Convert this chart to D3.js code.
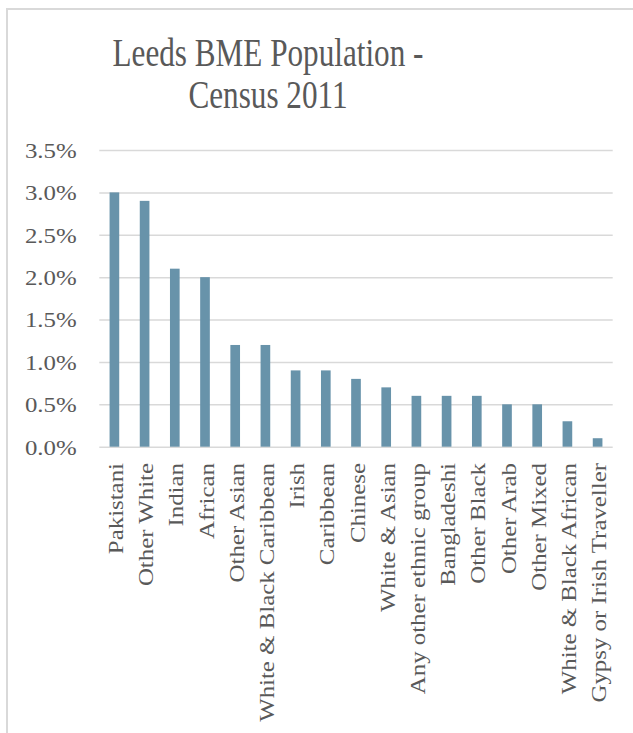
<!DOCTYPE html>
<html>
<head>
  <meta charset="utf-8" />
  <title>Leeds BME Population - Census 2011</title>
  <script src="https://cdnjs.cloudflare.com/ajax/libs/d3/7.8.5/d3.min.js"></script>
  <style>
    html, body { margin: 0; padding: 0; background: #fff; }
    svg { display: block; }
  </style>
</head>
<body>
  <div id="chart"></div>

  <script>
    // data
    var groups = ["Pakistani", "Other White", "Indian", "African", "Other Asian",
      "White & Black Caribbean", "Irish", "Caribbean", "Chinese", "White & Asian",
      "Any other ethnic group", "Bangladeshi", "Other Black", "Other Arab",
      "Other Mixed", "White & Black African", "Gypsy or Irish Traveller"];
    var shares = [3.0, 2.9, 2.1, 2.0, 1.2, 1.2, 0.9, 0.9, 0.8, 0.7, 0.6, 0.6, 0.6, 0.5, 0.5, 0.3, 0.1];
    var yTicks = [0, 0.5, 1.0, 1.5, 2.0, 2.5, 3.0, 3.5];
    var titleLines = ["Leeds BME Population -", "Census 2011"];

    var width = 633, height = 733;
    var plot = { left: 99.3, right: 612.7, top: 150, bottom: 446.7 };
    var textColor = "#595959", gridColor = "#d9d9d9", barColor = "#6893aa";
    var font = "'Liberation Serif', 'Times New Roman', serif";

    var svg = d3.select("#chart")
      .append("svg")
      .attr("width", width)
      .attr("height", height);

    // chart frame (only top and left edges show in the crop)
    svg.append("path")
      .attr("d", "M7," + height + "V9H" + width)
      .attr("fill", "none")
      .attr("stroke", gridColor)
      .attr("stroke-width", 2);

    var x = d3.scaleBand()
      .domain(groups)
      .range([plot.left, plot.right])
      .paddingInner(0.68)
      .paddingOuter(0.34);

    var y = d3.scaleLinear()
      .domain([0, 3.5])
      .range([plot.bottom, plot.top]);

    // title
    svg.selectAll(".title")
      .data(titleLines)
      .enter().append("text")
      .attr("class", "title")
      .attr("transform", function(d, i) {
        return "translate(268," + (65.7 + i * 42.6) + ") scale(0.8,1)";
      })
      .attr("text-anchor", "middle")
      .attr("font-family", font)
      .attr("font-size", 39)
      .attr("fill", textColor)
      .text(function(d) { return d; });

    // gridlines + y labels
    var yAxis = d3.axisLeft(y)
      .tickValues(yTicks)
      .tickSize(plot.left - plot.right)
      .tickPadding(0)
      .tickFormat(function(d) { return d3.format(".1f")(d) + "%"; });

    var gy = svg.append("g")
      .attr("transform", "translate(" + plot.left + ",0)")
      .call(yAxis);

    gy.select(".domain").remove();
    gy.selectAll(".tick line")
      .attr("stroke", gridColor)
      .attr("stroke-width", 1.5);
    gy.selectAll(".tick text")
      .attr("x", null)
      .attr("dy", null)
      .attr("transform", "translate(-22.6,7.4) scale(1.13,1)")
      .attr("font-family", font)
      .attr("font-size", 22)
      .attr("fill", textColor);

    // bars
    svg.selectAll(".bar")
      .data(shares)
      .enter().append("rect")
      .attr("class", "bar")
      .attr("x", function(d, i) { return x(groups[i]); })
      .attr("width", x.bandwidth())
      .attr("y", function(d) { return y(d); })
      .attr("height", function(d) { return y(0) - y(d); })
      .attr("fill", barColor);

    // category labels, rotated
    svg.selectAll(".cat")
      .data(groups)
      .enter().append("text")
      .attr("class", "cat")
      .attr("transform", function(d) {
        var cx = x(d) + x.bandwidth() / 2;
        return "translate(" + (cx + 8.5) + ",463) scale(1,1.13) rotate(-90)";
      })
      .attr("text-anchor", "end")
      .attr("font-family", font)
      .attr("font-size", 22)
      .attr("fill", textColor)
      .text(function(d) { return d; });
  </script>
</body>
</html>
